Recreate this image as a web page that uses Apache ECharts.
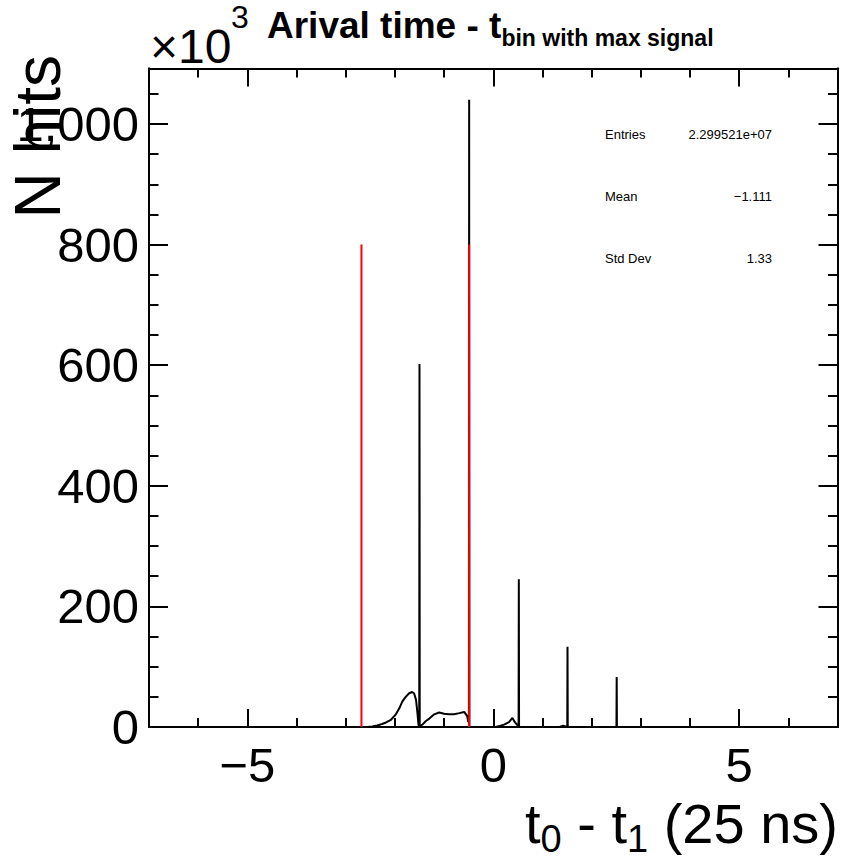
<!DOCTYPE html>
<html><head><meta charset="utf-8">
<script src="https://cdn.jsdelivr.net/npm/echarts@6/dist/echarts.min.js"></script>
<style>html,body{margin:0;padding:0;background:#fff;}#chart{width:844px;height:861px;}</style>
</head><body><div id="chart"></div>
<script>
// t0 - t1 (units of 25 ns), bin positions along the drawn histogram outline
const tValues = [-7, -2.56, -2.46, -2.36, -2.26, -2.18, -2.08, -1.98, -1.91, -1.85, -1.78, -1.71, -1.65, -1.61, -1.57, -1.54, -1.52, -1.505, -1.50, -1.495,
  -1.44, -1.37, -1.30, -1.20, -1.10, -1.00, -0.90, -0.80, -0.69, -0.59, -0.53, -0.51, -0.495, -0.49, -0.485,
  0.05, 0.15, 0.22, 0.32, 0.39, 0.44, 0.49, 0.515, 0.52, 0.525,
  1.35, 1.42, 1.47, 1.505, 1.51, 1.515, 2.505, 2.51, 2.515, 7];
// N hits in thousands (x10^3)
const nHits = [0, 0, 1, 2.5, 5, 7.5, 12, 21, 31, 42, 50, 56, 58, 56, 45, 22, 3, 2, 602, 2,
  4, 10, 14, 21, 24, 22, 21, 21, 23, 25, 18, 9, 8, 1040, 0,
  0, 2, 4, 8, 15, 8, 3, 2, 245, 0,
  0, 2, 1, 0, 133, 0, 0, 83, 0, 0];
const cutPositions = [-2.68, -0.49];
const cutHeight = 800;
const xMajorTicks = [-5, 0, 5];
const xMinorTicks = [-6, -4, -3, -2, -1, 1, 2, 3, 4, 6];
const yMajorTicks = [0, 200, 400, 600, 800, 1000];
const yMinorTicks = [50, 100, 150, 250, 300, 350, 450, 500, 550, 650, 700, 750, 850, 900, 950, 1050];
const statNames = ['Entries', 'Mean', 'Std Dev'];
const statValues = ['2.299521e+07', '\u22121.111', '1.33'];

const FONT = '"Liberation Sans", Arial, Helvetica, sans-serif';
const chart = echarts.init(document.getElementById('chart'), null, {renderer: 'svg'});
const X_MIN = -7, X_MAX = 7, Y_MIN = 0, Y_MAX = 1092;
const lineCol = '#000';
function xAx(pos, ticks, len, labels) {
  return {
    type: 'value', position: pos, min: X_MIN, max: X_MAX,
    axisLine: {show: true, onZero: false, lineStyle: {color: lineCol, width: 2}},
    axisTick: {show: true, inside: true, length: len, customValues: ticks, lineStyle: {color: lineCol, width: 2}},
    axisLabel: labels ? {show: true, customValues: ticks, margin: 13, fontSize: 49, fontFamily: FONT, color: '#000',
      formatter: v => (v < 0 ? '\u2212' + Math.abs(v) : String(v))} : {show: false},
    splitLine: {show: false}
  };
}
function yAx(pos, ticks, len, labels) {
  return {
    type: 'value', position: pos, min: Y_MIN, max: Y_MAX,
    axisLine: {show: true, onZero: false, lineStyle: {color: lineCol, width: 2}},
    axisTick: {show: true, inside: true, length: len, customValues: ticks, lineStyle: {color: lineCol, width: 2}},
    axisLabel: labels ? {show: true, customValues: ticks, margin: 10, fontSize: 49, fontFamily: FONT, color: '#000'} : {show: false},
    splitLine: {show: false}
  };
}
const series = [{
  type: 'line', xAxisIndex: 0, yAxisIndex: 0,
  data: tValues.map((t, i) => [t, nHits[i]]),
  showSymbol: false, symbol: 'none',
  lineStyle: {color: '#000', width: 2}, z: 2, animation: false
}];
cutPositions.forEach(p => series.push({
  type: 'line', xAxisIndex: 0, yAxisIndex: 0,
  data: [[p, 0], [p, cutHeight]], showSymbol: false, symbol: 'none',
  lineStyle: {color: '#ff0000', width: 2}, z: 3, animation: false
}));
const graphics = [
  {type: 'text', left: 267, top: 1, style: {
    text: '{m|Arival time - t}{s|bin with max signal}', fontFamily: FONT,
    rich: {m: {fontSize: 37, fontWeight: 'bold', fontFamily: FONT, lineHeight: 50},
           s: {fontSize: 23, fontWeight: 'bold', fontFamily: FONT, lineHeight: 23, padding: [25, 0, 0, 0]}}, fill: '#000'}},
  {type: 'text', x: 150, y: 46, style: {text: '\u00d710', fontSize: 48, fontFamily: FONT, fill: '#000', align: 'left', verticalAlign: 'middle'}},
  {type: 'text', x: 231, y: 17, style: {text: '3', fontSize: 32, fontFamily: FONT, fill: '#000', align: 'left', verticalAlign: 'middle'}},
  {type: 'text', right: 6, top: 788, style: {
    text: '{m|t}{s|0}{m| - t}{s|1}{m| (25 ns)}', fontFamily: FONT,
    rich: {m: {fontSize: 56, fontFamily: FONT, lineHeight: 76},
           s: {fontSize: 38, fontFamily: FONT, lineHeight: 38, padding: [32, 0, 0, 0]}}, fill: '#000'}},
  {type: 'text', x: 38, y: 55, rotation: Math.PI / 2, style: {
    text: 'N hits', fontSize: 64, fontFamily: FONT, fill: '#000', align: 'right', verticalAlign: 'middle'}}
];
statNames.forEach((n, i) => {
  graphics.push({type: 'text', x: 605, y: 134 + i * 62, style: {text: n, fontSize: 13, fontFamily: FONT, fill: '#000', align: 'left', verticalAlign: 'middle'}});
  graphics.push({type: 'text', x: 772, y: 134 + i * 62, style: {text: statValues[i], fontSize: 13, fontFamily: FONT, fill: '#000', align: 'right', verticalAlign: 'middle'}});
});
chart.setOption({
  animation: false,
  backgroundColor: '#fff',
  grid: {left: 149, top: 68.5, width: 688.5, height: 658.5, containLabel: false},
  xAxis: [xAx('bottom', xMajorTicks, 18, true), xAx('bottom', xMinorTicks, 9, false),
          xAx('top', xMajorTicks, 18, false), xAx('top', xMinorTicks, 9, false)],
  yAxis: [yAx('left', yMajorTicks, 19, true), yAx('left', yMinorTicks, 9.5, false),
          yAx('right', yMajorTicks, 19, false), yAx('right', yMinorTicks, 9.5, false)],
  series: series,
  graphic: graphics
});
</script></body></html>
